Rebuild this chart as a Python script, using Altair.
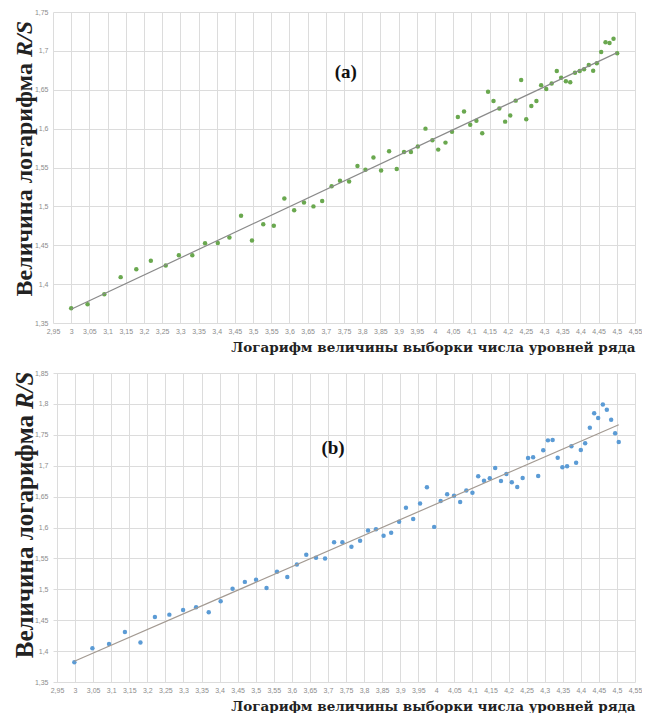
import altair as alt
import pandas as pd

# Panel (a) data
xa = [3.0, 3.045, 3.091, 3.136, 3.179, 3.219, 3.26, 3.296, 3.333, 3.368, 3.403, 3.435,
      3.467, 3.497, 3.528, 3.557, 3.586, 3.613, 3.64, 3.666, 3.69, 3.716, 3.739, 3.764,
      3.787, 3.809, 3.831, 3.852, 3.874, 3.895, 3.915, 3.934, 3.953, 3.974, 3.993, 4.009,
      4.029, 4.047, 4.063, 4.08, 4.097, 4.114, 4.13, 4.146, 4.161, 4.177, 4.193, 4.207,
      4.222, 4.237, 4.251, 4.265, 4.279, 4.292, 4.306, 4.321, 4.335, 4.347, 4.36, 4.372,
      4.385, 4.398, 4.41, 4.423, 4.435, 4.445, 4.457, 4.469, 4.48, 4.491, 4.501]
ya = [1.369, 1.374, 1.387, 1.409, 1.419, 1.430, 1.424, 1.437, 1.437, 1.4525, 1.453, 1.460,
      1.488, 1.456, 1.477, 1.475, 1.510, 1.495, 1.505, 1.500, 1.507, 1.526, 1.533, 1.532,
      1.552, 1.547, 1.563, 1.546, 1.571, 1.548, 1.570, 1.570, 1.577, 1.600, 1.585, 1.573,
      1.582, 1.596, 1.615, 1.622, 1.605, 1.610, 1.594, 1.6475, 1.6355, 1.626, 1.609, 1.617,
      1.636, 1.6625, 1.612, 1.629, 1.6355, 1.6557, 1.651, 1.658, 1.674, 1.6655, 1.661, 1.6596,
      1.672, 1.674, 1.6763, 1.6818, 1.6745, 1.684, 1.6985, 1.711, 1.710, 1.7157, 1.697]

# Panel (b) data
xb = [2.998, 3.048, 3.094, 3.138, 3.181, 3.221, 3.261, 3.299, 3.335, 3.37, 3.403, 3.436,
      3.47, 3.501, 3.53, 3.559, 3.5875, 3.614, 3.64, 3.667, 3.692, 3.717, 3.74, 3.765,
      3.789, 3.811, 3.833, 3.854, 3.875, 3.897, 3.916, 3.936, 3.955, 3.974, 3.994, 4.012,
      4.03, 4.049, 4.066, 4.083, 4.1, 4.116, 4.132, 4.148, 4.163, 4.179, 4.194, 4.209,
      4.224, 4.239, 4.254, 4.268, 4.282, 4.296, 4.309, 4.322, 4.336, 4.349, 4.362, 4.374,
      4.387, 4.4, 4.412, 4.425, 4.437, 4.448, 4.461, 4.472, 4.484, 4.495, 4.505]
yb = [1.382, 1.4045, 1.4115, 1.431, 1.414, 1.455, 1.459, 1.4665, 1.471, 1.463, 1.4805, 1.501,
      1.512, 1.5155, 1.502, 1.5285, 1.52, 1.54, 1.556, 1.551, 1.55, 1.576, 1.576, 1.569,
      1.5787, 1.595, 1.597, 1.5867, 1.5916, 1.6094, 1.632, 1.6138, 1.639, 1.665, 1.601, 1.643,
      1.6537, 1.6515, 1.6413, 1.660, 1.6563, 1.6828, 1.6758, 1.6796, 1.6963, 1.6752, 1.6866, 1.6731,
      1.6655, 1.680, 1.7125, 1.7136, 1.6833, 1.725, 1.741, 1.7416, 1.713, 1.6974, 1.699, 1.7314,
      1.7049, 1.7254, 1.7362, 1.7615, 1.785, 1.7772, 1.799, 1.7906, 1.7745, 1.7524, 1.7383]

x_ticks = [round(2.95 + 0.05 * i, 2) for i in range(33)]
ya_ticks = [round(1.35 + 0.05 * i, 2) for i in range(9)]
yb_ticks = [round(1.35 + 0.05 * i, 2) for i in range(11)]

x_title = "Логарифм величины выборки числа уровней ряда"
y_title_main = "Величина логарифма"
y_title_var = "R/S"

label_expr = "replace(toString(round(datum.value*100)/100), '.', ',')"


def panel(xs, ys, color, line_color, xdom, ydom, yticks, w, h, tag, tag_x, tag_y,
          title_x, split_y, tsize):
    df = pd.DataFrame({"x": xs, "y": ys})
    xenc = alt.X("x:Q", scale=alt.Scale(domain=xdom, nice=False, zero=False),
                 axis=alt.Axis(values=x_ticks, labelExpr=label_expr, title=x_title,
                               titleAnchor="end", titleFont="DejaVu Serif", titleFontSize=13.5,
                               titleFontWeight="bold", titleColor="#222222", titlePadding=6,
                               labelFontSize=7, labelColor="#8c8c8c", labelFont="Liberation Sans",
                               labelPadding=4, labelOverlap=False, domain=False, ticks=False,
                               gridColor="#dcdcdc", labelFlush=False))
    yenc = alt.Y("y:Q", scale=alt.Scale(domain=ydom, nice=False, zero=False),
                 axis=alt.Axis(values=yticks, labelExpr=label_expr, title=None,
                               labelFontSize=7, labelColor="#8c8c8c", labelFont="Liberation Sans",
                               labelPadding=5, labelOverlap=False, domain=False, ticks=False,
                               gridColor="#dcdcdc", labelFlush=False))
    base = alt.Chart(df)
    pts = base.mark_circle(size=20, color=color, opacity=1).encode(x=xenc, y=yenc)
    trend = base.transform_regression("x", "y").mark_line(
        color=line_color, strokeWidth=1.2).encode(x=xenc, y=yenc)
    tdf = pd.DataFrame({"x": [tag_x], "y": [tag_y], "t": [tag]})
    txt = alt.Chart(tdf).mark_text(font="Liberation Serif", fontSize=19, fontWeight="bold",
                                   color="#111111").encode(x=xenc, y=yenc, text="t:N")
    one = pd.DataFrame({"k": [0]})
    yt1 = alt.Chart(one).mark_text(font="Liberation Serif", fontSize=tsize, fontWeight="bold",
                                   angle=270, align="right", baseline="middle",
                                   color="#222222").encode(
        x=alt.value(title_x), y=alt.value(split_y + 3), text=alt.value(y_title_main))
    yt2 = alt.Chart(one).mark_text(font="Liberation Serif", fontSize=tsize, fontWeight="bold",
                                   fontStyle="italic", angle=270, align="left",
                                   baseline="middle", color="#222222").encode(
        x=alt.value(title_x), y=alt.value(split_y - 3), text=alt.value(y_title_var))
    return alt.layer(pts, trend, txt, yt1, yt2).properties(width=w, height=h)


top = panel(xa, ya, "#6aa84f", "#8a8a8a", [2.95, 4.55], [1.35, 1.75], ya_ticks, 582, 311,
            "(a)", 3.755, 1.673, -28, 48, 24)
bottom = panel(xb, yb, "#5b9bd5", "#a39a92", [2.9389, 4.55], [1.35, 1.85], yb_ticks, 582, 309,
               "(b)", 3.714, 1.729, -28, 39, 25)

chart = alt.concat(top, bottom, columns=1, spacing=15).properties(
    padding={"left": 5, "top": 0, "right": 0, "bottom": 0}
).configure_view(stroke=None)

chart.save("out.html", embed_options={"renderer": "svg", "actions": False})
